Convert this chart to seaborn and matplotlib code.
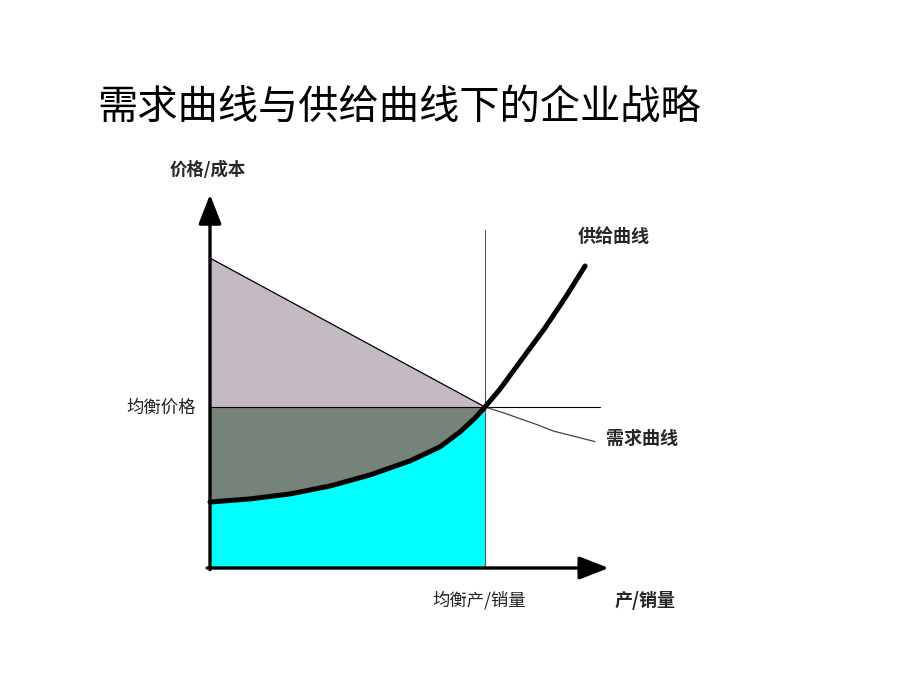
import numpy as np
import matplotlib
matplotlib.use("Agg")
import matplotlib.pyplot as plt
import seaborn as sns

# 数据：数量 q 与价格 p（任意单位，均衡点为 (10, 10)）
q_eq = 10.0
p_eq = 10.0

supply_q = [0.0, 1.45, 2.91, 4.36, 5.82, 7.27, 8.36, 9.09, 9.64, 10.0,
            10.55, 11.27, 12.18, 12.91, 13.64]
supply_p = [4.10, 4.29, 4.60, 5.09, 5.78, 6.65, 7.52, 8.45, 9.32, 10.0,
            11.12, 12.80, 14.91, 16.77, 18.76]

demand_q = [0.0, 10.0, 10.65, 11.9, 12.5, 14.0]
demand_p = [19.25, 10.0, 9.65, 8.9, 8.5, 7.85]

title = "需求曲线与供给曲线下的企业战略"

sns.set_theme(style="white")
plt.rcParams['font.family'] = ['Noto Sans CJK SC', 'DejaVu Sans']

fig = plt.figure(figsize=(9.2, 6.9), dpi=100)
ax = fig.add_axes([0, 0, 1, 1])
# 像素对齐：原点在 (210, 568)，x 每单位 27.5px，y 每单位 16.1px
ax.set_xlim((0 - 210) / 27.5, (920 - 210) / 27.5)
ax.set_ylim((568 - 690) / 16.1, (568 - 0) / 16.1)
ax.axis("off")

sq = np.array(supply_q)
sp = np.array(supply_p)
dq = np.array(demand_q)
dp = np.array(demand_p)
low = sq <= q_eq

# 上方三角形
ax.fill(np.concatenate([[0.0], dq[:2]]), np.concatenate([[p_eq], dp[:2]]),
        color="#c3b9c3", lw=0)
# 中间区域
ax.fill(np.concatenate([[0.0, q_eq], sq[low][::-1]]),
        np.concatenate([[p_eq, p_eq], sp[low][::-1]]),
        color="#76827a", lw=0)
# 供给曲线下方
ax.fill(np.concatenate([sq[low], [q_eq, 0.0]]),
        np.concatenate([sp[low], [0.0, 0.0]]),
        color="#00ffff", lw=0)

# 均衡价格线与均衡产量线
ax.plot([0, 14.18], [p_eq, p_eq], color="black", lw=0.8)
ax.plot([q_eq, q_eq], [0, 21.0], color="#555555", lw=0.8)

# 需求曲线
sns.lineplot(x=dq[:2], y=dp[:2], ax=ax, color="black", lw=0.9, sort=False)
sns.lineplot(x=dq[1:], y=dp[1:], ax=ax, color="#444444", lw=0.9, sort=False)
# 供给曲线
sns.lineplot(x=sq, y=sp, ax=ax, color="black", lw=3.6, sort=False)

# 坐标轴箭头
arrow = dict(arrowstyle="-|>,head_width=0.35,head_length=0.9", lw=2.4,
             color="black", mutation_scale=20, shrinkA=0, shrinkB=0)
ax.annotate("", xy=(0, 23.2), xytext=(0, -0.1), arrowprops=arrow)
ax.annotate("", xy=(14.5, 0), xytext=(-0.1, 0), arrowprops=arrow)

# 文字
fig.text(97 / 920, 1 - 107 / 690, title, fontsize=29, va="center", ha="left",
         color="black")
fig.text(170 / 920, 1 - 170 / 690, "价格/成本", fontsize=12.5, fontweight="bold",
         va="center", ha="left")
fig.text(578 / 920, 1 - 237 / 690, "供给曲线", fontsize=13, fontweight="bold",
         va="center", ha="left")
fig.text(606 / 920, 1 - 438 / 690, "需求曲线", fontsize=13, fontweight="bold",
         va="center", ha="left")
fig.text(196 / 920, 1 - 408 / 690, "均衡价格", fontsize=12.5, color="#222222",
         va="center", ha="right")
fig.text(432 / 920, 1 - 600 / 690, "均衡产/销量", fontsize=12.5, color="#222222",
         va="center", ha="left")
fig.text(615 / 920, 1 - 600 / 690, "产/销量", fontsize=13, fontweight="bold",
         va="center", ha="left")

fig.savefig("out.png", dpi=100)
